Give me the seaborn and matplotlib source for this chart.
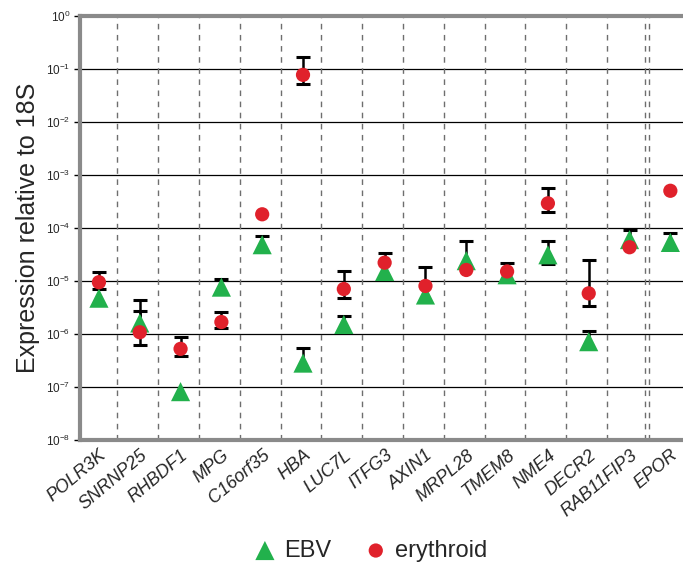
import numpy as np
import pandas as pd
import matplotlib
matplotlib.use("Agg")
import matplotlib.pyplot as plt
import seaborn as sns

# Data
genes = ["POLR3K", "SNRNP25", "RHBDF1", "MPG", "C16orf35", "HBA", "LUC7L", "ITFG3",
         "AXIN1", "MRPL28", "TMEM8", "NME4", "DECR2", "RAB11FIP3", "EPOR"]
nan = np.nan

ebv = [4.7e-6, 1.6e-6, 8.1e-8, 7.6e-6, 4.8e-5, 2.8e-7, 1.5e-6, 1.5e-5,
       5.4e-6, 2.4e-5, 1.3e-5, 3.1e-5, 7.1e-7, 6.0e-5, 5.3e-5]
ebv_hi = [nan, 4.4e-6, nan, 1.07e-5, 7.1e-5, 5.5e-7, 2.2e-6, nan,
          nan, 5.6e-5, nan, 5.6e-5, 1.14e-6, 9.1e-5, 8.0e-5]
ebv_lo = [nan, nan, nan, nan, nan, nan, nan, nan,
          nan, nan, nan, 2.1e-5, nan, nan, nan]

ery = [9.4e-6, 1.07e-6, 5.2e-7, 1.67e-6, 1.8e-4, 0.077, 7.0e-6, 2.2e-5,
       8.0e-6, 1.6e-5, 1.5e-5, 2.9e-4, 5.8e-6, 4.3e-5, 5.0e-4]
ery_hi = [1.45e-5, 2.75e-6, 8.7e-7, 2.57e-6, nan, 0.17, 1.55e-5, 3.3e-5,
          1.85e-5, nan, 2.2e-5, 5.7e-4, 2.5e-5, nan, nan]
ery_lo = [7.1e-6, 6.2e-7, 3.8e-7, 1.3e-6, nan, 0.051, 4.7e-6, nan,
          nan, nan, nan, 2.0e-4, 3.4e-6, nan, nan]

green = "#22b14c"
red = "#e0212b"

sns.set_style("white")
plt.rcParams["font.family"] = ["Liberation Sans", "DejaVu Sans"]
plt.rcParams["mathtext.fontset"] = "custom"
plt.rcParams["mathtext.rm"] = "Liberation Sans"

fig = plt.figure(figsize=(6.83, 5.66), dpi=100)
ax = fig.add_axes([0.117, 0.223, 0.883, 0.749])

x = np.arange(len(genes))

# error bars: stems + caps drawn behind markers
def draw_err(vals, hi, lo):
    vals = np.array(vals)
    hi = np.array(hi)
    lo = np.array(lo)
    top = np.where(np.isnan(hi), vals, hi)
    bot = np.where(np.isnan(lo), vals, lo)
    ax.vlines(x, bot, top, color="black", lw=1.8, zorder=2)
    caps = np.concatenate([hi, lo])
    cx = np.concatenate([x, x])
    ok = ~np.isnan(caps)
    ax.scatter(cx[ok], caps[ok], marker="_", s=100, linewidths=2.2,
               color="black", zorder=2)

draw_err(ebv, ebv_hi, ebv_lo)
draw_err(ery, ery_hi, ery_lo)

df_ebv = pd.DataFrame({"gene": genes, "value": ebv})
df_ery = pd.DataFrame({"gene": genes, "value": ery})
sns.scatterplot(data=df_ebv, x="gene", y="value", marker="^", s=190, color=green,
                edgecolor="none", label="EBV", ax=ax, zorder=3)
sns.scatterplot(data=df_ery, x="gene", y="value", marker="o", s=105, color=red,
                edgecolor="none", label="erythroid", ax=ax, zorder=4)

ax.set_yscale("log")
ax.set_ylim(1e-8, 1)
ax.set_xlim(-0.466, 14.31)

# horizontal decade lines
for e in range(-7, 0):
    ax.axhline(10.0 ** e, color="black", lw=0.9, zorder=1)

# dashed category separators
seps = [i + 0.45 for i in range(13)] + [13.38, 13.47]
for s in seps:
    ax.axvline(s, color="#6e6e6e", lw=1.0, ls=(0, (4, 4)), zorder=1)

ax.set_xticks(x)
ax.set_xticklabels(genes, rotation=40, ha="right", rotation_mode="anchor",
                   fontsize=13, style="italic")
ax.set_xticks(seps, minor=True)
ax.tick_params(axis="x", which="major", length=0, pad=5)
ax.tick_params(axis="x", which="minor", length=5, width=1, color="#6e6e6e", direction="out")

ax.set_yticks([10.0 ** e for e in range(-8, 1)])
ax.yaxis.set_minor_locator(matplotlib.ticker.NullLocator())
ax.tick_params(axis="y", which="major", length=4, width=1, color="black",
               direction="out", labelsize=8.5, pad=3, left=True)

ax.set_xlabel("")
ax.set_ylabel("Expression relative to 18S", fontsize=18, labelpad=4)

for side in ["left", "bottom", "top"]:
    ax.spines[side].set_color("#8a8a8a")
    ax.spines[side].set_linewidth(3)
ax.spines["right"].set_visible(False)

handles, labels = ax.get_legend_handles_labels()
ax.legend_.remove()
fig.legend(handles, labels, loc="center", bbox_to_anchor=(0.54, 0.027), ncol=2,
           frameon=False, fontsize=17, handletextpad=0.2, columnspacing=1.3,
           markerscale=1.0, handlelength=1.2)

fig.savefig("out.png", dpi=100)
